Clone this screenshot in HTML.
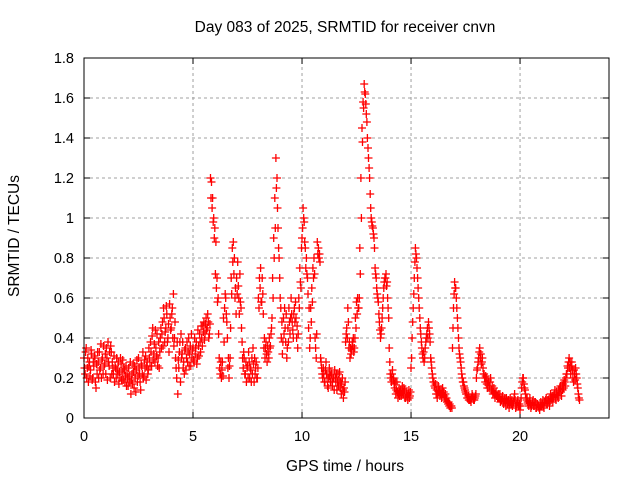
<!DOCTYPE html>
<html><head><meta charset="utf-8"><style>
body{margin:0;background:#fff}
svg{display:block;font-family:"Liberation Sans",sans-serif}
</style></head><body>
<svg id="c" width="640" height="480">
<text x="345" y="32" font-size="15.5" text-anchor="middle">Day 083 of 2025, SRMTID for receiver cnvn</text>
<text x="345" y="471" font-size="15.5" text-anchor="middle">GPS time / hours</text>
<text transform="translate(19,236) rotate(-90)" font-size="15.5" text-anchor="middle">SRMTID / TECUs</text>
<g id="grid"></g><g id="ticks"></g><g id="pts"></g>
<rect x="84" y="58" width="525" height="360" fill="none" stroke="#000" stroke-width="1"/>
</svg>
<script>
const xTicks=[0,5,10,15,20];
const yTicks=[0,0.2,0.4,0.6,0.8,1,1.2,1.4,1.6,1.8];
const yTickLabels=["0","0.2","0.4","0.6","0.8","1","1.2","1.4","1.6","1.8"];
const tStart=0, tStep=0.05, tStart2=0.025;
const srmtid=[
.30,.22,.35,.25,.18,.28,.24,.32,.20,.26,.30,.15,.22,.28,.33,.25,.20,.30,.36,.27,
.22,.30,.38,.26,.20,.33,.28,.22,.18,.25,.30,.22,.17,.20,.27,.23,.19,.24,.21,.16,
.20,.25,.18,.12,.22,.27,.15,.20,.24,.18,.30,.22,.14,.26,.33,.21,.25,.19,.28,.24,
.30,.38,.26,.45,.32,.28,.35,.42,.30,.25,.40,.35,.48,.55,.38,.45,.52,.40,.33,.50,
.45,.55,.62,.40,.30,.20,.12,.25,.38,.42,.32,.25,.22,.35,.30,.28,.40,.32,.26,.30,
.35,.28,.32,.38,.30,.36,.42,.33,.40,.46,.48,.42,.50,.45,.48,.42,1.20,1.18,1.10,1.00,
.95,.88,.70,.60,.30,.22,.20,.28,.50,.55,.60,.48,.25,.20,.30,.70,.85,.88,.80,.65,
.70,.78,.60,.72,.55,.38,.25,.30,.22,.18,.26,.33,.20,.24,.30,.35,.18,.22,.28,.20,
.60,.70,.75,.58,.62,.35,.30,.38,.28,.33,.40,.36,.45,.70,.90,1.10,1.30,1.20,.95,.80,
.60,.40,.32,.50,.55,.38,.30,.45,.55,.42,.60,.48,.40,.55,.58,.40,.35,.60,.75,.65,
.90,1.05,.98,.85,.80,.70,.45,.35,.55,.65,.75,.80,.40,.30,.88,.85,.82,.30,.25,.20,
.22,.18,.28,.20,.15,.25,.18,.22,.16,.20,.24,.18,.14,.22,.19,.15,.12,.20,.10,.13,
.38,.45,.55,.35,.30,.32,.38,.40,.35,.50,.58,.60,.55,.85,1.20,1.45,1.58,1.67,1.62,1.52,
1.40,1.30,1.20,1.05,.98,.95,.90,.75,.70,.62,.58,.48,.40,.45,.55,.65,.70,.72,.68,.55,
.35,.22,.18,.24,.20,.15,.12,.18,.10,.15,.13,.11,.16,.12,.14,.10,.12,.09,.14,.11,
.25,.40,.55,.70,.85,.80,.70,.60,.50,.42,.35,.30,.28,.35,.40,.45,.48,.42,.30,.25,
.20,.18,.15,.12,.10,.16,.14,.12,.10,.15,.13,.10,.09,.08,.07,.06,.05,.06,.35,.55,
.68,.65,.55,.45,.35,.30,.25,.20,.18,.15,.13,.12,.10,.09,.10,.08,.12,.10,.09,.11,
.20,.25,.30,.35,.32,.28,.25,.22,.18,.20,.15,.18,.16,.20,.14,.12,.15,.10,.13,.11,
.12,.10,.08,.09,.11,.07,.10,.06,.09,.08,.05,.10,.07,.06,.08,.12,.05,.07,.09,.06,
.04,.10,.18,.20,.15,.12,.09,.08,.06,.10,.05,.07,.09,.06,.08,.05,.07,.06,.04,.08,
.06,.09,.05,.08,.10,.07,.09,.06,.12,.10,.08,.11,.14,.09,.12,.10,.13,.16,.11,.14,
.15,.18,.20,.22,.25,.30,.28,.26,.24,.18,.22,.25,.20,.15,.10
];
const srmtid2=[
.25,.33,.20,.30,.26,.21,.34,.19,.28,.31,.18,.27,.33,.20,.24,.37,.29,.22,.26,.32,
.35,.19,.28,.33,.36,.22,.25,.31,.26,.20,.24,.28,.23,.30,.19,.29,.25,.18,.26,.22,
.16,.21,.28,.19,.17,.23,.26,.13,.29,.21,.25,.18,.27,.22,.20,.29,.31,.26,.22,.35,
.26,.33,.41,.29,.37,.44,.31,.26,.38,.33,.45,.42,.36,.50,.43,.56,.38,.47,.57,.44,
.52,.40,.36,.48,.25,.38,.29,.33,.18,.30,.38,.28,.34,.24,.38,.33,.26,.36,.42,.34,
.29,.40,.35,.27,.44,.31,.38,.46,.36,.43,.39,.47,.44,.52,.40,.47,1.10,1.05,.98,.90,
.72,.65,.58,.42,.25,.28,.24,.21,.38,.62,.52,.40,.30,.26,.45,.62,.78,.72,.60,.52,
.62,.66,.52,.58,.45,.30,.33,.22,.28,.25,.20,.28,.25,.18,.22,.27,.30,.25,.20,.25,
.55,.65,.58,.70,.52,.40,.35,.32,.36,.30,.35,.42,.50,.60,.80,.95,1.15,1.05,.85,.70,
.55,.48,.38,.42,.45,.52,.35,.38,.48,.50,.52,.44,.52,.48,.50,.46,.42,.55,.68,.85,
.95,1.00,.88,.75,.72,.62,.55,.40,.48,.58,.70,.72,.35,.42,.82,.80,.78,.28,.22,.25,
.18,.24,.22,.16,.20,.21,.23,.18,.20,.14,.20,.22,.18,.16,.23,.18,.17,.14,.15,.18,
.42,.40,.48,.38,.35,.34,.36,.33,.40,.45,.52,.55,.60,.72,1.00,1.38,1.55,1.63,1.57,1.48,
1.35,1.25,1.12,1.00,.96,.92,.85,.72,.65,.60,.52,.44,.42,.50,.60,.68,.70,.66,.60,.50,
.28,.20,.22,.19,.17,.18,.14,.13,.12,.11,.14,.12,.13,.15,.10,.13,.11,.12,.10,.13,
.30,.48,.62,.78,.82,.75,.65,.55,.45,.38,.32,.33,.30,.38,.42,.40,.45,.38,.28,.22,
.18,.16,.17,.14,.12,.13,.11,.14,.12,.12,.11,.12,.10,.08,.08,.07,.06,.05,.45,.62,
.65,.60,.50,.40,.32,.28,.22,.18,.16,.14,.12,.10,.11,.09,.09,.10,.11,.09,.10,.12,
.24,.28,.33,.30,.27,.30,.22,.20,.21,.17,.19,.15,.18,.14,.16,.13,.12,.12,.11,.10,
.10,.12,.09,.10,.08,.09,.08,.10,.07,.09,.07,.08,.09,.07,.10,.09,.06,.08,.06,.07,
.06,.15,.20,.17,.14,.10,.10,.07,.08,.07,.06,.08,.06,.08,.05,.07,.06,.05,.06,.06,
.07,.06,.08,.09,.07,.09,.08,.10,.09,.11,.10,.12,.10,.13,.11,.14,.15,.13,.16,.17,
.19,.16,.22,.26,.28,.25,.22,.28,.20,.24,.19,.22,.17,.12,.09
];
const NS="http://www.w3.org/2000/svg";
const X0=84,X1=609,Y0=418,Y1=58,XMAX=24.08,YMAX=1.8;
function sx(v){return X0+v/XMAX*(X1-X0);}
function sy(v){return Y0-v/YMAX*(Y0-Y1);}
function mk(tag,at,parent){const e=document.createElementNS(NS,tag);for(const k in at)e.setAttribute(k,at[k]);parent.appendChild(e);return e;}
const grid=document.getElementById('grid'),ticks=document.getElementById('ticks'),pts=document.getElementById('pts');
yTicks.forEach((v,i)=>{
  const y=sy(v);
  if(i>0&&i<yTicks.length-1){const g=mk('line',{x1:X0,x2:X1,y1:y,y2:y,stroke:'#a0a0a0','stroke-dasharray':'3,3'},grid);
  
  }
  mk('line',{x1:X0,x2:X0+6,y1:y,y2:y,stroke:'#000'},ticks);
  mk('line',{x1:X1,x2:X1-6,y1:y,y2:y,stroke:'#000'},ticks);
  const t=mk('text',{x:X0-10,y:y+5,'font-size':14.5,'text-anchor':'end'},ticks);
  t.textContent=yTickLabels[i];
  
  
});
xTicks.forEach(v=>{
  const x=sx(v);
  if(v>0){const g=mk('line',{x1:x,x2:x,y1:Y0,y2:Y1,stroke:'#a0a0a0','stroke-dasharray':'3,3'},grid);
  
  }
  mk('line',{x1:x,x2:x,y1:Y0,y2:Y0-6,stroke:'#000'},ticks);
  mk('line',{x1:x,x2:x,y1:Y1,y2:Y1+6,stroke:'#000'},ticks);
  const t=mk('text',{x:x,y:Y0+23,'font-size':14.5,'text-anchor':'middle'},ticks);
  t.textContent=String(v);
  
  
});
function plot(arr,t0,color,name){
  let d='';
  arr.forEach((v,i)=>{
    const x=sx(t0+i*tStep),y=sy(v);
    d+=`M${(x-4).toFixed(1)} ${y.toFixed(1)}h8M${x.toFixed(1)} ${(y-4).toFixed(1)}v8`;
  });
  const p=mk('path',{d:d,stroke:color,'stroke-width':1.3,fill:'none'},pts);
  
  
}
plot(srmtid2,tStart2,'#ff0000','srmtid-series-b');
plot(srmtid,tStart,'#ff0000','srmtid-series');
</script>
</body></html>
